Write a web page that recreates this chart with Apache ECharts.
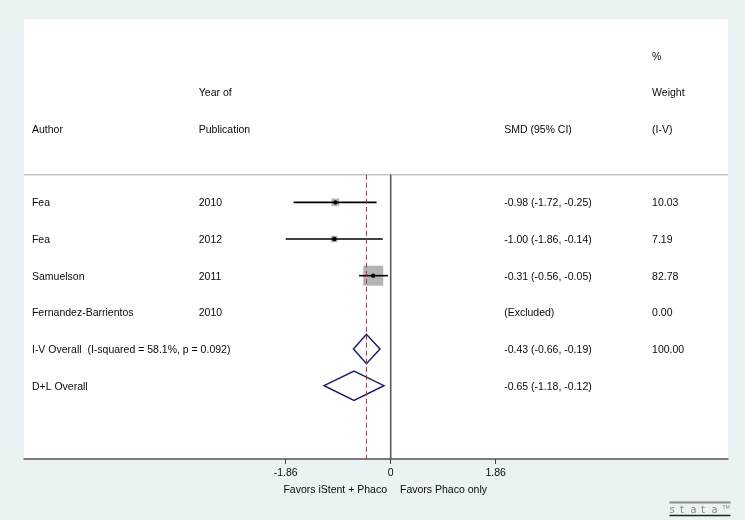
<!DOCTYPE html>
<html>
<head>
<meta charset="utf-8">
<script src="https://cdn.jsdelivr.net/npm/echarts@6/dist/echarts.min.js"></script>
<style>
	html, body { margin: 0; padding: 0; background: #eaf2f3; }
	#chart { width: 745px; height: 520px; }
</style>
</head>
<body>
<div id="chart"></div>
<script>
// 研究数据
const authors = ['Fea', 'Fea', 'Samuelson', 'Fernandez-Barrientos']
const years = ['2010', '2012', '2011', '2010']
const smd = [-0.98, -1.00, -0.31, null]
const ciLow = [-1.72, -1.86, -0.56, null]
const ciHigh = [-0.25, -0.14, -0.05, null]
const weights = [10.03, 7.19, 82.78, 0.00]

// 合并结果
const overallLabels = ['I-V Overall  (I-squared = 58.1%, p = 0.092)', 'D+L Overall']
const overallEst = [-0.43, -0.65]
const overallLow = [-0.66, -1.18]
const overallHigh = [-0.19, -0.12]
const overallWeight = ['100.00', '']

const headerRows = [
	['', '', '', '%'],
	['', 'Year of', '', 'Weight'],
	['Author', 'Publication', 'SMD (95% CI)', '(I-V)']
]
const xTicks = [-1.86, 0, 1.86]
const favorsLeft = 'Favors iStent + Phaco'
const favorsRight = 'Favors Phaco only'

// 列位置（横轴数据单位）
const colX = [-6.355, -3.40, 2.01, 4.63]
const FONT = '10.5px "Liberation Sans", Arial, sans-serif'
const TXT = '#0a0a0a'

const fmt = (v) => v.toFixed(2)
const rows = []
authors.forEach((a, i) => {
	rows.push({
		type: 'study',
		texts: [a, years[i], smd[i] == null ? '(Excluded)' : `${fmt(smd[i])} (${fmt(ciLow[i])}, ${fmt(ciHigh[i])})`, fmt(weights[i])],
		est: smd[i], lo: ciLow[i], hi: ciHigh[i], w: weights[i]
	})
})
overallLabels.forEach((l, i) => {
	rows.push({
		type: 'overall',
		texts: [l, '', `${fmt(overallEst[i])} (${fmt(overallLow[i])}, ${fmt(overallHigh[i])})`, overallWeight[i]],
		est: overallEst[i], lo: overallLow[i], hi: overallHigh[i]
	})
})
const maxW = Math.max(...weights)

const textEl = (api, x, row, str) => {
	const p = api.coord([x, row])
	return {
		type: 'text',
		style: { text: str, x: p[0], y: p[1] + 1, font: FONT, fill: TXT, align: 'left', verticalAlign: 'middle' }
	}
}

const myChart = echarts.init(document.getElementById('chart'))
const option = {
	backgroundColor: '#eaf2f3',
	animation: false,
	grid: {
		left: 24, right: 17, top: 19, bottom: 61,
		show: true, backgroundColor: '#ffffff', borderWidth: 0
	},
	xAxis: {
		type: 'value',
		min: -6.496,
		max: 5.975,
		axisLine: { show: true, onZero: false, lineStyle: { color: '#555', width: 1.5 } },
		axisTick: { show: true, customValues: xTicks, length: 5, lineStyle: { color: '#444', width: 1 } },
		axisLabel: {
			customValues: xTicks, margin: 9, color: TXT, fontSize: 10.5,
			fontFamily: '"Liberation Sans", Arial, sans-serif',
			formatter: (v) => (v === 0 ? '0' : fmt(v))
		},
		splitLine: { show: false }
	},
	yAxis: { type: 'value', min: -4, max: 8, inverse: true, show: false },
	series: [
		{
			// 表头
			type: 'custom',
			data: headerRows.map((r, i) => [0, i - 3]),
			renderItem: (params, api) => {
				const r = headerRows[params.dataIndex]
				const row = params.dataIndex - 3
				return { type: 'group', children: r.map((t, c) => textEl(api, colX[c], row, t)) }
			}
		},
		{
			// 各研究与合并行
			type: 'custom',
			data: rows.map((r, i) => [0, i + 1]),
			renderItem: (params, api) => {
				const r = rows[params.dataIndex]
				const row = params.dataIndex + 1
				const children = r.texts.map((t, c) => textEl(api, colX[c], row, t))
				if (r.type === 'study' && r.est != null) {
					const a = api.coord([r.lo, row])
					const b = api.coord([r.hi, row])
					const m = api.coord([r.est, row])
					const s = 19 * Math.sqrt(r.w / maxW) + 1
					children.push({ type: 'rect', shape: { x: m[0] - s / 2, y: m[1] - s / 2, width: s, height: s }, style: { fill: '#b4b4b4' } })
					children.push({ type: 'line', shape: { x1: a[0], y1: a[1], x2: b[0], y2: b[1] }, style: { stroke: '#000', lineWidth: 1.6 } })
					children.push({ type: 'circle', shape: { cx: m[0], cy: m[1], r: 2.2 }, style: { fill: '#000' } })
				}
				if (r.type === 'overall') {
					const pts = [
						api.coord([r.lo, row]), api.coord([r.est, row - 0.4]),
						api.coord([r.hi, row]), api.coord([r.est, row + 0.4])
					]
					children.push({ type: 'polygon', shape: { points: pts }, style: { fill: '#fff', stroke: '#1d1d6b', lineWidth: 1.5 } })
				}
				return { type: 'group', children }
			}
		},
		{
			// 分隔线、零线、合并效应虚线
			type: 'custom',
			data: [[0, 0]],
			z: 5,
			renderItem: (params, api) => {
				const l = api.coord([-6.496, 0.25])
				const r = api.coord([5.975, 0.25])
				const z0 = api.coord([0, 0.25])
				const z1 = api.coord([0, 8])
				const d0 = api.coord([overallEst[0], 0.25])
				const d1 = api.coord([overallEst[0], 8])
				return {
					type: 'group',
					children: [
						{ type: 'line', shape: { x1: l[0], y1: l[1], x2: r[0], y2: r[1] }, style: { stroke: '#a8a8a8', lineWidth: 1 } },
						{ type: 'line', shape: { x1: z0[0], y1: z0[1], x2: z1[0], y2: z1[1] }, style: { stroke: '#5a5a5a', lineWidth: 1.6 } },
						{ type: 'line', shape: { x1: d0[0], y1: d0[1], x2: d1[0], y2: d1[1] }, style: { stroke: '#8f3a44', lineWidth: 1, lineDash: [5, 3] } }
					]
				}
			}
		}
	],
	graphic: [
		{ type: 'text', right: 745 - 387, top: 485, style: { text: favorsLeft, font: FONT, fill: TXT } },
		{ type: 'text', left: 400, top: 485, style: { text: favorsRight, font: FONT, fill: TXT } },
		{
			type: 'group', left: 667, top: 500,
			children: [
				{ type: 'line', shape: { x1: 0, y1: 1, x2: 61, y2: 1 }, style: { stroke: '#8a8a8a', lineWidth: 2 } },
				{ type: 'line', shape: { x1: 0, y1: 14, x2: 61, y2: 14 }, style: { stroke: '#222', lineWidth: 1.5 } },
				...['s', 't', 'a', 't', 'a'].map((c, i) => ({
					type: 'text', x: i * 10.5, y: 4,
					style: { text: c, font: '10px "DejaVu Sans", sans-serif', fill: '#888' }
				})),
				{ type: 'text', x: 53, y: 4, style: { text: 'TM', font: '5px "DejaVu Sans", sans-serif', fill: '#888' } }
			]
		}
	]
}
myChart.setOption(option)
</script>
</body>
</html>
